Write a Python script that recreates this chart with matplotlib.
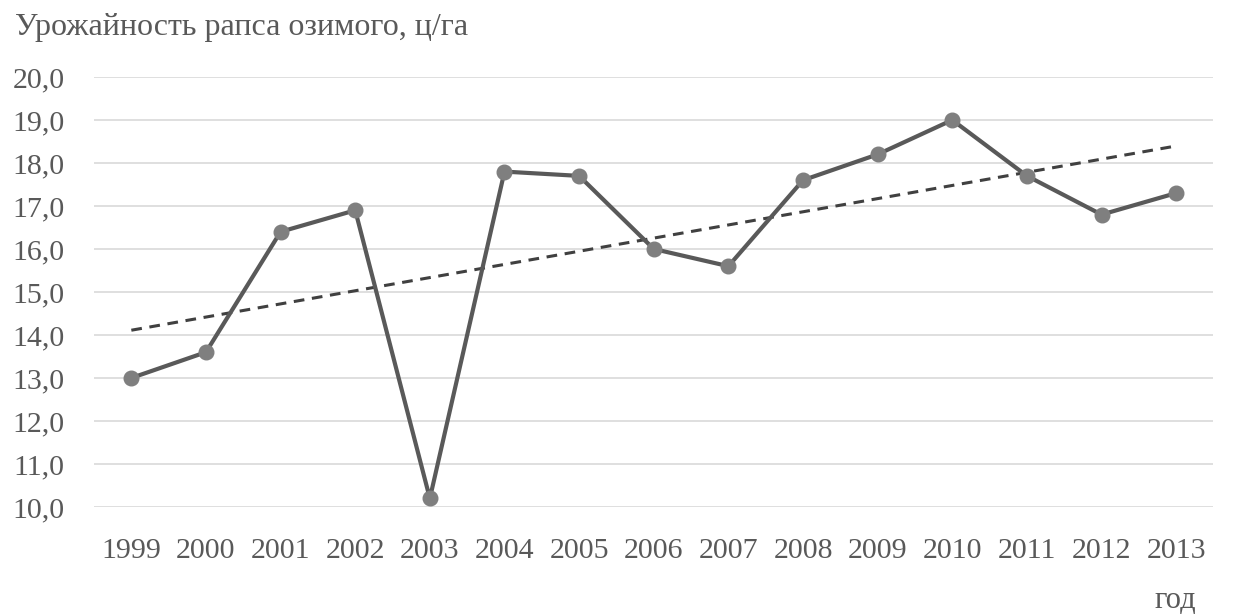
import numpy as np
import matplotlib.pyplot as plt

# Урожайность рапса озимого по годам
years = ['1999', '2000', '2001', '2002', '2003', '2004', '2005', '2006',
         '2007', '2008', '2009', '2010', '2011', '2012', '2013']
yields = [13.0, 13.6, 16.4, 16.9, 10.2, 17.8, 17.7, 16.0,
          15.6, 17.6, 18.2, 19.0, 17.7, 16.8, 17.3]
y_ticks = [10, 11, 12, 13, 14, 15, 16, 17, 18, 19, 20]

plt.rcParams['font.family'] = ['Liberation Serif', 'DejaVu Serif']
text_col = '#595959'

fig = plt.figure(figsize=(12.37, 6.14), dpi=100)
ax = fig.add_axes([0.076, 0.1743, 0.905, 0.7003])

x = np.arange(len(years))
ax.plot(x, yields, color='#595959', lw=3.0, marker='o', ms=10.5,
        markerfacecolor='#7f7f7f', markeredgecolor='#7f7f7f', zorder=3)

# linear trend, like Excel's trendline
k, b = np.polyfit(x, yields, 1)
ax.plot(x[[0, -1]], k * x[[0, -1]] + b, color='#404040', lw=2.2,
        ls=(0, (3.5, 2.5)), zorder=2)

ax.set_xlim(-0.5, len(years) - 0.5)
ax.set_ylim(10, 20)
ax.set_xticks(x)
ax.set_xticklabels(years)
ax.set_yticks(y_ticks)
ax.set_yticklabels([('%.1f' % v).replace('.', ',') for v in y_ticks])
ax.tick_params(length=0, labelsize=21.5, colors=text_col)
ax.tick_params(axis='x', pad=22)
ax.tick_params(axis='y', pad=21)
for s in ax.spines.values():
    s.set_visible(False)
ax.grid(axis='y', color='#d9d9d9', lw=1.2)
ax.set_axisbelow(True)

fig.text(15 / 1237, 1 - 35 / 614, 'Урожайность рапса озимого, ц/га',
         fontsize=23, color=text_col, ha='left', va='baseline')
fig.text(1175 / 1237, 1 - 608 / 614, 'год', fontsize=22, color=text_col,
         ha='center', va='baseline')

fig.savefig('out.png', dpi=100)
